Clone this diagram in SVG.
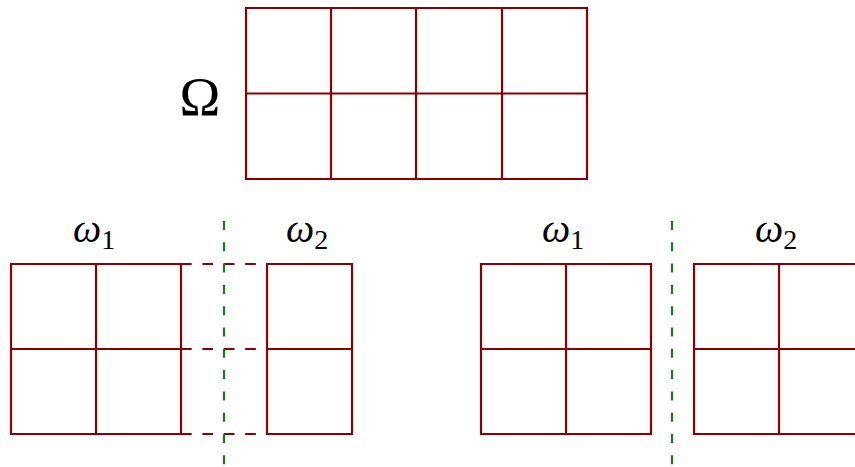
<svg xmlns="http://www.w3.org/2000/svg" width="855" height="467" viewBox="0 0 855 467">
<style>
.g{fill:none;stroke:#8b0000;stroke-width:2.2}
.d{fill:none;stroke:#8b0000;stroke-width:2.2;stroke-dasharray:10.7 10.7}
.s{fill:none;stroke:#1a7a1a;stroke-width:2.2;stroke-dasharray:9 12.3}
.t{font-family:"Liberation Serif","DejaVu Serif",serif;fill:#000}
.w{font-style:italic;font-size:40px}
.b{font-size:28px}
</style>
<rect width="855" height="467" fill="#fff"/>
<g id="omega">
<text class="t" x="200" y="115" font-size="55" text-anchor="middle">Ω</text>
<path class="g" d="M246,8H587V179H246Z M331,8V179 M416,8V179 M502,8V179 M246,93.5H587"/>
</g>
<g id="left-w1">
<text class="t" x="73" y="242"><tspan class="w">ω</tspan><tspan class="b" dy="7">1</tspan></text>
<path class="g" d="M11,264H181V434H11Z M96,264V434 M11,349H181"/>
</g>
<g id="left-w2">
<text class="t" x="286" y="242"><tspan class="w">ω</tspan><tspan class="b" dy="7">2</tspan></text>
<path class="g" d="M267,264H352V434H267Z M267,349H352"/>
</g>
<g id="right-w1">
<text class="t" x="542" y="242"><tspan class="w">ω</tspan><tspan class="b" dy="7">1</tspan></text>
<path class="g" d="M481,264H651V434H481Z M566,264V434 M481,349H651"/>
</g>
<g id="right-w2">
<text class="t" x="755" y="242"><tspan class="w">ω</tspan><tspan class="b" dy="7">2</tspan></text>
<path class="g" d="M860,264H694V434H860 M779,264V434 M694,349H860"/>
</g>
<g id="connectors">
<path class="d" d="M181,264H267 M181,349H267 M181,434H267"/>
<path class="s" d="M224,221V467"/>
<path class="s" d="M672,221V467"/>
</g>
</svg>
